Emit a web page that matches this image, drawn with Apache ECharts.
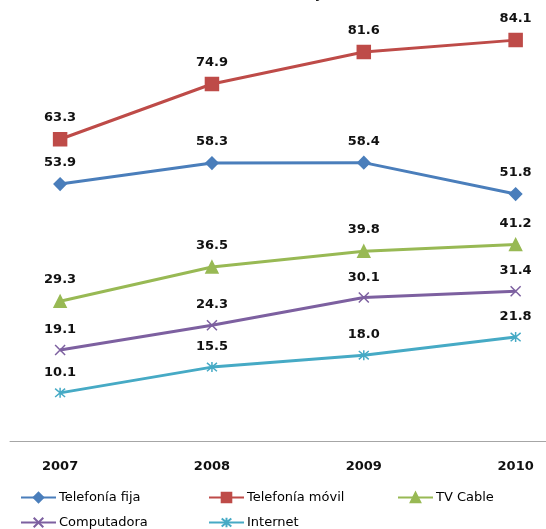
<!DOCTYPE html>
<html>
<head>
<meta charset="utf-8">
<script src="https://cdn.jsdelivr.net/npm/echarts@6/dist/echarts.min.js"></script>
<style>
    html, body { margin: 0; padding: 0; background: #fff; }
    #main { width: 546px; height: 529px; }
</style>
</head>
<body>
<div id="main"></div>
<script>
var years = [2007, 2008, 2009, 2010];

var fija = [53.9, 58.3, 58.4, 51.8];
var movil = [63.3, 74.9, 81.6, 84.1];
var cable = [29.3, 36.5, 39.8, 41.2];
var computadora = [19.1, 24.3, 30.1, 31.4];
var internet = [10.1, 15.5, 18.0, 21.8];

var names = ['Telefonía fija', 'Telefonía móvil', 'TV Cable', 'Computadora', 'Internet'];

var font = 'DejaVu Sans';

// pares [año, valor] para el eje x numérico
function pares(arr) {
    return arr.map(function (v, i) { return [years[i], v]; });
}

function serie(name, data, color, symbol, size) {
    return {
        name: name,
        type: 'line',
        data: pares(data),
        symbol: symbol,
        symbolSize: size,
        lineStyle: { color: color, width: 3 },
        itemStyle: { color: color, borderColor: color, borderWidth: 1.5 },
        label: {
            show: true,
            position: 'top',
            distance: 8,
            color: '#111',
            fontFamily: font,
            fontWeight: 'bold',
            fontSize: 13,
            formatter: function (p) { return p.value[1].toFixed(1); }
        },
        emphasis: { disabled: true },
        animation: false
    };
}

function leyenda(name, left, top) {
    return {
        data: [name],
        left: left,
        top: top,
        padding: 0,
        itemWidth: 35,
        itemHeight: 12,
        itemGap: 0,
        textStyle: { fontFamily: font, fontSize: 13, color: '#000', padding: [0, 0, 0, -2] }
    };
}

var xSymbol = 'path://M0,0L10,10M10,0L0,10';
var starSymbol = 'path://M0,0L10,10M10,0L0,10M5,-1L5,11';

option = {
    backgroundColor: '#fff',
    title: {
        text: '(Porcentaje)',
        left: 240,
        top: -17,
        textStyle: { fontFamily: font, fontSize: 13, fontWeight: 'bold', color: '#111' }
    },
    grid: {
        left: 10,
        right: 0,
        top: 12,
        bottom: 88
    },
    xAxis: {
        type: 'value',
        min: 2006.67,
        max: 2010.2,
        splitLine: { show: false },
        axisTick: { show: false },
        axisLine: { lineStyle: { color: '#a6a6a6', width: 1 } },
        axisLabel: {
            customValues: years,
            margin: 19,
            color: '#111',
            fontFamily: font,
            fontWeight: 'bold',
            fontSize: 13,
            formatter: function (v) { return String(v); }
        }
    },
    yAxis: {
        type: 'value',
        min: 0,
        max: 90,
        show: false
    },
    legend: [
        leyenda(names[0], 20, 491),
        leyenda(names[1], 208, 491),
        leyenda(names[2], 397, 491),
        leyenda(names[3], 20, 516),
        leyenda(names[4], 208, 516)
    ],
    series: [
        serie(names[0], fija, '#4a7ebb', 'diamond', 12),
        serie(names[1], movil, '#be4b48', 'rect', 13),
        serie(names[2], cable, '#98b954', 'triangle', 12),
        serie(names[3], computadora, '#7d60a0', xSymbol, 10),
        serie(names[4], internet, '#46aac5', starSymbol, 10)
    ]
};

var myChart = echarts.init(document.getElementById('main'));
myChart.setOption(option);
</script>
</body>
</html>
